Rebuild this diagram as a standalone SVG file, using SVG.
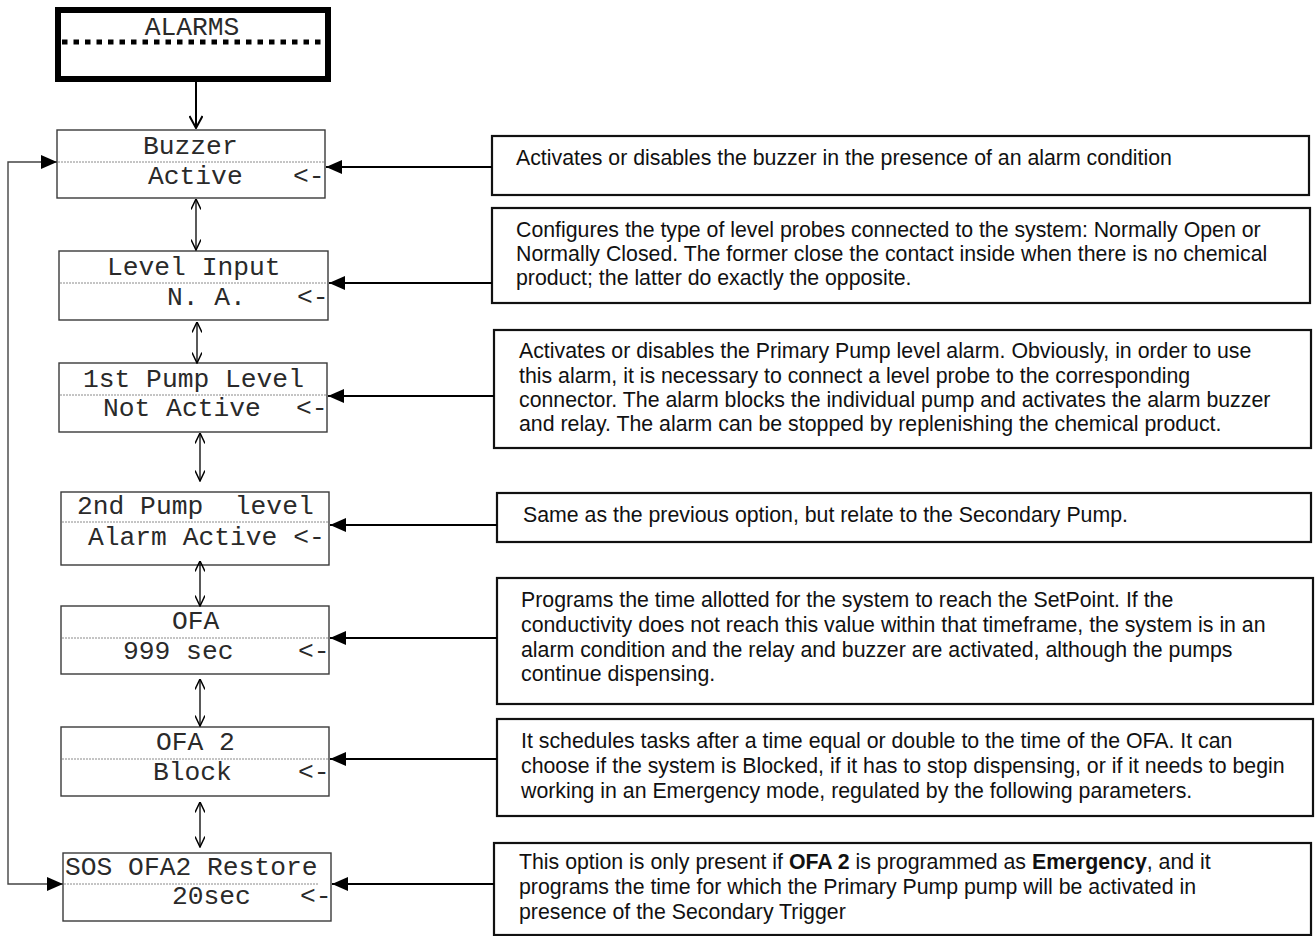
<svg xmlns="http://www.w3.org/2000/svg" width="1315" height="936" viewBox="0 0 1315 936">
  <style>
    .lcd { fill: #fff; stroke: #3a3a3a; stroke-width: 1.4; }
    .sep { stroke: #8a8a8a; stroke-width: 1; stroke-dasharray: 2 1; fill: none; }
    .mono { font-family: "Liberation Mono", "Courier New", monospace; font-size: 26.3px; fill: #2a2a2a; }
    .desc { fill: #fff; stroke: #111; stroke-width: 2.2; }
    .dtext { font-family: "Liberation Sans", Arial, sans-serif; font-size: 21.3px; fill: #111; }
    .link { stroke: #000; stroke-width: 2.2; fill: none; marker-end: url(#solid); }
    .nav { stroke: #000; stroke-width: 1.3; fill: none; marker-start: url(#open); marker-end: url(#open); }
    .loop { stroke: #444; stroke-width: 1.4; fill: none; marker-start: url(#solidLoop); marker-end: url(#solidLoop); }
  </style>
  <defs>
    <marker id="solid" markerUnits="userSpaceOnUse" viewBox="0 0 16 14" refX="16" refY="7" markerWidth="16" markerHeight="14" orient="auto">
      <path d="M0,0 L16,7 L0,14 Z" fill="#000"/>
    </marker>
    <marker id="solidLoop" markerUnits="userSpaceOnUse" viewBox="0 0 16 14" refX="16" refY="7" markerWidth="16" markerHeight="14" orient="auto-start-reverse">
      <path d="M0,0 L16,7 L0,14 Z" fill="#000"/>
    </marker>
    <marker id="open" markerUnits="userSpaceOnUse" viewBox="0 0 12 10" refX="11.5" refY="5" markerWidth="12" markerHeight="10" orient="auto-start-reverse">
      <path d="M1,0 L11.5,5 L1,10" fill="none" stroke="#000" stroke-width="1.5"/>
    </marker>
    <marker id="openBig" markerUnits="userSpaceOnUse" viewBox="0 0 14 14" refX="13" refY="7" markerWidth="14" markerHeight="14" orient="auto">
      <path d="M1,0.5 L13,7 L1,13.5" fill="none" stroke="#000" stroke-width="2"/>
    </marker>
  </defs>

  <!-- menu header -->
  <g id="alarms">
    <rect x="58" y="10" width="270" height="69" fill="#fff" stroke="#000" stroke-width="6"/>
    <line x1="62" y1="42" x2="322" y2="42" stroke="#000" stroke-width="5" stroke-dasharray="5.5 6"/>
    <text class="mono" x="192" y="35" text-anchor="middle" font-size="25px">ALARMS</text>
  </g>

  <!-- display menu items -->
  <g id="buzzer">
    <rect class="lcd" x="57" y="130" width="268" height="68"/>
    <line class="sep" x1="58" y1="162" x2="324" y2="162"/>
    <text class="mono" x="143" y="154">Buzzer</text>
    <text class="mono" x="148" y="184">Active</text>
    <text class="mono" x="293" y="184">&lt;-</text>
  </g>
  <g id="level-input">
    <rect class="lcd" x="59" y="251" width="269" height="69"/>
    <line class="sep" x1="60" y1="283" x2="327" y2="283"/>
    <text class="mono" x="107" y="275">Level Input</text>
    <text class="mono" x="167" y="305">N. A.</text>
    <text class="mono" x="297" y="305">&lt;-</text>
  </g>
  <g id="pump1-level">
    <rect class="lcd" x="59" y="363" width="268" height="69"/>
    <line class="sep" x1="60" y1="395" x2="326" y2="395"/>
    <text class="mono" x="83" y="387">1st Pump Level</text>
    <text class="mono" x="103" y="416">Not Active</text>
    <text class="mono" x="296" y="416">&lt;-</text>
  </g>
  <g id="pump2-level">
    <rect class="lcd" x="61" y="492" width="268" height="73"/>
    <line class="sep" x1="62" y1="522" x2="328" y2="522"/>
    <text class="mono" x="77" y="514" xml:space="preserve">2nd Pump  level</text>
    <text class="mono" x="88" y="545">Alarm Active &lt;-</text>
  </g>
  <g id="ofa">
    <rect class="lcd" x="61" y="606" width="268" height="68"/>
    <line class="sep" x1="62" y1="638" x2="328" y2="638"/>
    <text class="mono" x="172" y="629">OFA</text>
    <text class="mono" x="123" y="659">999 sec</text>
    <text class="mono" x="298" y="659">&lt;-</text>
  </g>
  <g id="ofa2">
    <rect class="lcd" x="61" y="727" width="268" height="69"/>
    <line class="sep" x1="62" y1="759" x2="328" y2="759"/>
    <text class="mono" x="156" y="750">OFA 2</text>
    <text class="mono" x="153" y="780">Block</text>
    <text class="mono" x="298" y="780">&lt;-</text>
  </g>
  <g id="sos-restore">
    <rect class="lcd" x="63" y="853" width="268" height="68"/>
    <line class="sep" x1="64" y1="884" x2="318" y2="884"/>
    <text class="mono" x="65" y="875">SOS OFA2 Restore</text>
    <text class="mono" x="172" y="904">20sec</text>
    <text class="mono" x="300" y="904">&lt;-</text>
  </g>

  <!-- explanations -->
  <g id="note-buzzer">
    <rect class="desc" x="492" y="136" width="817" height="59"/>
    <text class="dtext" x="516" y="165">Activates or disables the buzzer in the presence of an alarm condition</text>
  </g>
  <g id="note-level-input">
    <rect class="desc" x="492" y="208" width="818" height="95"/>
    <text class="dtext" x="516" y="237">Configures the type of level probes connected to the system: Normally Open or</text>
    <text class="dtext" x="516" y="261">Normally Closed. The former close the contact inside when there is no chemical</text>
    <text class="dtext" x="516" y="285">product; the latter do exactly the opposite.</text>
  </g>
  <g id="note-pump1">
    <rect class="desc" x="494" y="330" width="817" height="118"/>
    <text class="dtext" x="519" y="358">Activates or disables the Primary Pump level alarm. Obviously, in order to use</text>
    <text class="dtext" x="519" y="382.5">this alarm, it is necessary to connect a level probe to the corresponding</text>
    <text class="dtext" x="519" y="407">connector. The alarm blocks the individual pump and activates the alarm buzzer</text>
    <text class="dtext" x="519" y="431">and relay. The alarm can be stopped by replenishing the chemical product.</text>
  </g>
  <g id="note-pump2">
    <rect class="desc" x="497" y="493" width="814" height="49"/>
    <text class="dtext" x="523" y="522">Same as the previous option, but relate to the Secondary Pump.</text>
  </g>
  <g id="note-ofa">
    <rect class="desc" x="497" y="578" width="816" height="126"/>
    <text class="dtext" x="521" y="607">Programs the time allotted for the system to reach the SetPoint. If the</text>
    <text class="dtext" x="521" y="632">conductivity does not reach this value within that timeframe, the system is in an</text>
    <text class="dtext" x="521" y="657">alarm condition and the relay and buzzer are activated, although the pumps</text>
    <text class="dtext" x="521" y="681">continue dispensing.</text>
  </g>
  <g id="note-ofa2">
    <rect class="desc" x="497" y="719" width="816" height="97"/>
    <text class="dtext" x="521" y="748">It schedules tasks after a time equal or double to the time of the OFA. It can</text>
    <text class="dtext" x="521" y="773">choose if the system is Blocked, if it has to stop dispensing, or if it needs to begin</text>
    <text class="dtext" x="521" y="798">working in an Emergency mode, regulated by the following parameters.</text>
  </g>
  <g id="note-sos">
    <rect class="desc" x="494" y="843" width="817" height="92"/>
    <text class="dtext" x="519" y="869">This option is only present if <tspan font-weight="bold">OFA 2</tspan> is programmed as <tspan font-weight="bold">Emergency</tspan>, and it</text>
    <text class="dtext" x="519" y="894">programs the time for which the Primary Pump pump will be activated in</text>
    <text class="dtext" x="519" y="919">presence of the Secondary Trigger</text>
  </g>

  <!-- connectors -->
  <g id="connectors">
    <line x1="196" y1="82" x2="196" y2="128" stroke="#000" stroke-width="2" marker-end="url(#openBig)"/>
    <line class="nav" x1="196" y1="199" x2="196" y2="250"/>
    <line class="nav" x1="197" y1="322" x2="197" y2="363"/>
    <line class="nav" x1="200" y1="433" x2="200" y2="481"/>
    <line class="nav" x1="200" y1="561" x2="200" y2="606"/>
    <line class="nav" x1="200" y1="679" x2="200" y2="726"/>
    <line class="nav" x1="200" y1="802" x2="200" y2="847"/>
    <path class="loop" d="M63,884 H8 V162 H57"/>
    <line class="link" x1="492" y1="167" x2="326" y2="167"/>
    <line class="link" x1="492" y1="283" x2="329" y2="283"/>
    <line class="link" x1="494" y1="396" x2="328" y2="396"/>
    <line class="link" x1="497" y1="525" x2="330" y2="525"/>
    <line class="link" x1="497" y1="638" x2="330" y2="638"/>
    <line class="link" x1="497" y1="759" x2="330" y2="759"/>
    <line class="link" x1="494" y1="884" x2="332" y2="884"/>
  </g>
</svg>
